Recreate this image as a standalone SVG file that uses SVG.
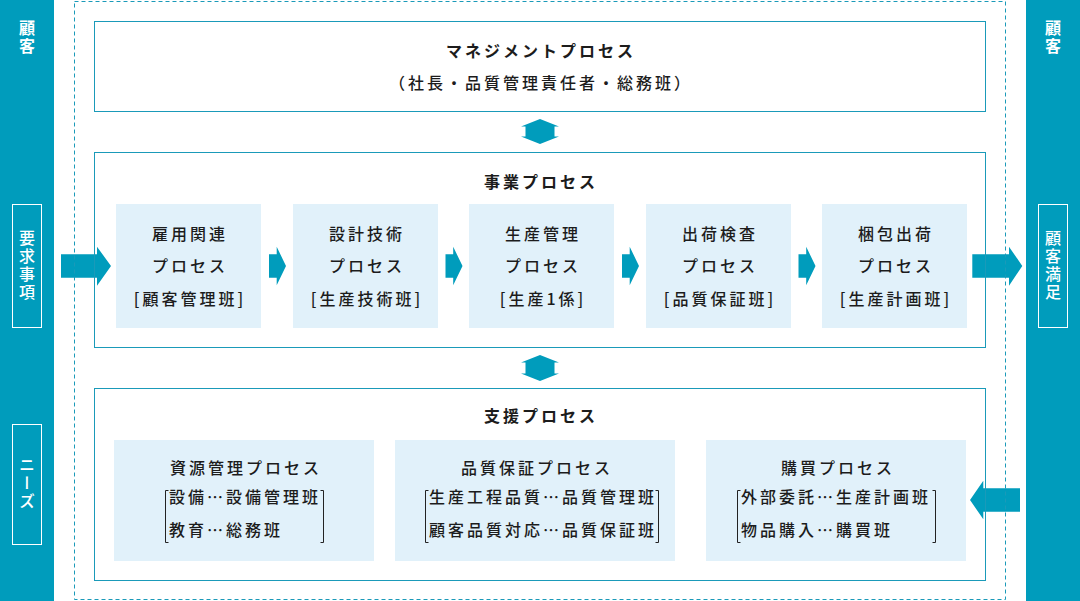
<svg xmlns="http://www.w3.org/2000/svg" width="1080" height="601" viewBox="0 0 1080 601">
<style>
text{font-family:"Noto Sans CJK JP","Noto Sans",sans-serif;fill:#1c1c1c;font-size:16px;font-weight:500;letter-spacing:3px}
.b{font-weight:bold}
.c{text-anchor:middle}
.w{fill:#fff}
.v{writing-mode:vertical-rl;text-anchor:middle;letter-spacing:2px}
.bar{fill:#009cbc}
.frame{fill:none;stroke:#1a9ab9;stroke-width:1}
.sub{fill:#e1f1fa}
.arr{fill:#009cbc}
.brk{fill:none;stroke:#222;stroke-width:1}
</style>
<rect width="1080" height="601" fill="#fff"/>
<g id="customer-left">
<rect class="bar" x="0" y="0" width="54" height="601"/>
<text class="w b v" x="27" y="38">顧客</text>
<rect x="12.5" y="204.5" width="29" height="123" fill="none" stroke="#fff" stroke-width="1"/>
<text class="w v" x="27" y="266">要求事項</text>
<rect x="12.5" y="424.5" width="29" height="120" fill="none" stroke="#fff" stroke-width="1"/>
<text class="w v" x="27" y="484">ニーズ</text>
</g>
<g id="customer-right">
<rect class="bar" x="1026" y="0" width="54" height="601"/>
<text class="w b v" x="1053" y="38">顧客</text>
<rect x="1038.5" y="204.5" width="29" height="123" fill="none" stroke="#fff" stroke-width="1"/>
<text class="w v" x="1053" y="266">顧客満足</text>
</g>
<g id="connectors">
<path class="arr" d="M61,254.3H97V246.7L111,266L97,285.7V277.7H61Z"/>
<path class="arr" d="M972.3,254.3H1009V246.7L1022.3,266L1009,285.7V277.7H972.3Z"/>
<path class="arr" d="M1020,488.3H983.3V480.7L970,500L983.3,519.3V511.7H1020Z"/>
<path class="arr" d="M540,119L559,126.5H554.5V136.5H559L540,144L521,136.5H525.5V126.5H521Z"/>
<path class="arr" d="M540,355L559,362.5H554.5V373.5H559L540,381L521,373.5H525.5V362.5H521Z"/>
<path class="arr" d="M269,254.3H276.7V246.7L286,266L276.7,285.3V277.7H269Z"/>
<path class="arr" d="M445.5,254.3H453.2V246.7L462.5,266L453.2,285.3V277.7H445.5Z"/>
<path class="arr" d="M622,254.3H629.7V246.7L639,266L629.7,285.3V277.7H622Z"/>
<path class="arr" d="M798.5,254.3H806.2V246.7L815.5,266L806.2,285.3V277.7H798.5Z"/>
</g>
<g id="organization">
<rect x="74.5" y="1.5" width="931" height="598" fill="none" stroke="#1a9ab9" stroke-width="1" stroke-dasharray="4,3"/>
</g>
<g id="management">
<rect class="frame" x="94.5" y="21.5" width="891" height="90"/>
<text class="b c" x="541" y="56.5">マネジメントプロセス</text>
<text class="c" x="541" y="88.5">（社長・品質管理責任者・総務班）</text>
</g>
<g id="business">
<rect class="frame" x="94.5" y="152.5" width="891" height="195"/>
<text class="b c" x="541" y="188">事業プロセス</text>
</g>
<g id="employment">
<rect class="sub" x="116" y="204" width="145" height="124"/>
<text class="c" x="190" y="240">雇用関連</text>
<text class="c" x="190" y="272">プロセス</text>
<text class="c" x="190" y="305">[顧客管理班]</text>
</g>
<g id="design">
<rect class="sub" x="293" y="204" width="145" height="124"/>
<text class="c" x="367" y="240">設計技術</text>
<text class="c" x="367" y="272">プロセス</text>
<text class="c" x="367" y="305">[生産技術班]</text>
</g>
<g id="production">
<rect class="sub" x="469" y="204" width="145" height="124"/>
<text class="c" x="543" y="240">生産管理</text>
<text class="c" x="543" y="272">プロセス</text>
<text class="c" x="543" y="305">[生産1係]</text>
</g>
<g id="inspection">
<rect class="sub" x="646" y="204" width="145" height="124"/>
<text class="c" x="720" y="240">出荷検査</text>
<text class="c" x="720" y="272">プロセス</text>
<text class="c" x="720" y="305">[品質保証班]</text>
</g>
<g id="packing">
<rect class="sub" x="822" y="204" width="145" height="124"/>
<text class="c" x="896" y="240">梱包出荷</text>
<text class="c" x="896" y="272">プロセス</text>
<text class="c" x="896" y="305">[生産計画班]</text>
</g>
<g id="support">
<rect class="frame" x="94.5" y="388.5" width="891" height="192"/>
<text class="b c" x="541" y="422">支援プロセス</text>
</g>
<g id="resources">
<rect class="sub" x="114" y="440" width="260" height="121"/>
<text class="c" x="246" y="474">資源管理プロセス</text>
<path class="brk" d="M168.5,490.5H165.5V542.5H168.5M320.5,490.5H323.5V542.5H320.5"/>
<text x="169" y="502.5">設備…設備管理班</text>
<text x="169" y="535.5">教育…総務班</text>
</g>
<g id="quality">
<rect class="sub" x="395" y="440" width="280" height="121"/>
<text class="c" x="537" y="474">品質保証プロセス</text>
<path class="brk" d="M428.5,490.5H425.5V542.5H428.5M655.5,490.5H658.5V542.5H655.5"/>
<text x="429" y="502.5">生産工程品質…品質管理班</text>
<text x="429" y="535.5">顧客品質対応…品質保証班</text>
</g>
<g id="purchasing">
<rect class="sub" x="706" y="440" width="260" height="121"/>
<text class="c" x="838" y="474">購買プロセス</text>
<path class="brk" d="M740.5,490.5H737.5V542.5H740.5M932.5,490.5H935.5V542.5H932.5"/>
<text x="741" y="502.5">外部委託…生産計画班</text>
<text x="741" y="535.5">物品購入…購買班</text>
</g>
</svg>
